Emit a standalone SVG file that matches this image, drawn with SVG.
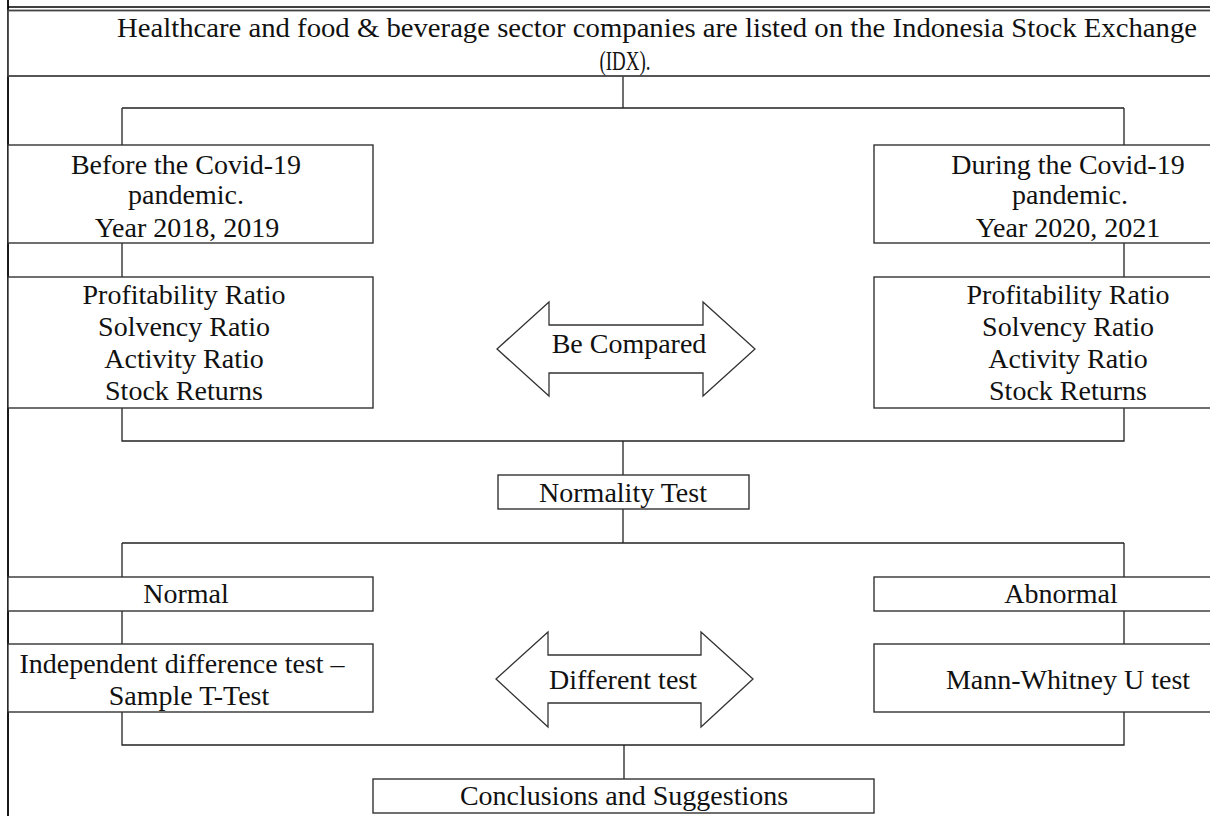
<svg xmlns="http://www.w3.org/2000/svg" width="1210" height="816" viewBox="0 0 1210 816">
<style>
.box{fill:#fff;stroke:#333;stroke-width:1.4}
.arrow{fill:#fff;stroke:#333;stroke-width:1.3;stroke-linejoin:miter}
.conn{fill:none;stroke:#222;stroke-width:1.3}
.t{font-family:"Liberation Serif","Times New Roman",serif;font-size:28px;fill:#111;text-anchor:middle}
</style>
<rect x="0" y="0" width="1210" height="816" fill="#fff"/>
<g id="frame">
<line x1="8" y1="0" x2="8" y2="816" stroke="#000" stroke-width="1.8"/>
<line x1="8" y1="7" x2="1210" y2="7" stroke="#000" stroke-width="1.3"/>
</g>
<g id="connectors">
<path class="conn" d="M623 76V108M122 108H1124M122 108V145M1124 108V145"/>
<path class="conn" d="M122 243V277M1124 243V277"/>
<path class="conn" d="M122 408V441H1124V408M623 441V475"/>
<path class="conn" d="M623 509V543M122 543H1124M122 543V577M1124 543V577"/>
<path class="conn" d="M122 611V644M1124 611V644"/>
<path class="conn" d="M122 712V745H1124V712M624 745V779"/>
</g>
<g id="top">
<rect x="8" y="10.5" width="1204" height="65.5" fill="#fff" stroke="#444" stroke-width="1.8"/>
<text class="t" x="657" y="37" textLength="1080" lengthAdjust="spacingAndGlyphs">Healthcare and food &amp; beverage sector companies are listed on the Indonesia Stock Exchange</text>
<text class="t" x="625" y="70" textLength="51" lengthAdjust="spacingAndGlyphs">(IDX).</text>
</g>
<g id="before">
<rect class="box" x="8" y="145" width="365" height="98"/>
<text class="t" x="186" y="174">Before the Covid-19</text>
<text class="t" x="186" y="204">pandemic.</text>
<text class="t" x="187" y="237">Year 2018, 2019</text>
</g>
<g id="during">
<rect class="box" x="874" y="145" width="340" height="98"/>
<text class="t" x="1068" y="174">During the Covid-19</text>
<text class="t" x="1070" y="204">pandemic.</text>
<text class="t" x="1068" y="237">Year 2020, 2021</text>
</g>
<g id="ratios-left">
<rect class="box" x="8" y="277" width="365" height="131"/>
<text class="t" x="184" y="304">Profitability Ratio</text>
<text class="t" x="184" y="336">Solvency Ratio</text>
<text class="t" x="184" y="368">Activity Ratio</text>
<text class="t" x="184" y="400">Stock Returns</text>
</g>
<g id="ratios-right">
<rect class="box" x="874" y="277" width="340" height="131"/>
<text class="t" x="1068" y="304">Profitability Ratio</text>
<text class="t" x="1068" y="336">Solvency Ratio</text>
<text class="t" x="1068" y="368">Activity Ratio</text>
<text class="t" x="1068" y="400">Stock Returns</text>
</g>
<g id="compare">
<polygon class="arrow" points="497,349 549,302 549,325 703,325 703,302 755,349 703,396 703,373 549,373 549,396"/>
<text class="t" x="629" y="353">Be Compared</text>
</g>
<g id="normality">
<rect class="box" x="498" y="475" width="251" height="34"/>
<text class="t" x="623" y="502">Normality Test</text>
</g>
<g id="normal">
<rect class="box" x="8" y="577" width="365" height="34"/>
<text class="t" x="186" y="603">Normal</text>
</g>
<g id="abnormal">
<rect class="box" x="874" y="577" width="340" height="34"/>
<text class="t" x="1061" y="603">Abnormal</text>
</g>
<g id="ttest">
<rect class="box" x="8" y="644" width="365" height="68"/>
<text class="t" x="182" y="673">Independent difference test –</text>
<text class="t" x="189" y="705">Sample T-Test</text>
</g>
<g id="mann">
<rect class="box" x="874" y="644" width="340" height="68"/>
<text class="t" x="1068" y="689">Mann-Whitney U test</text>
</g>
<g id="different">
<polygon class="arrow" points="496,679 548,632 548,655 701,655 701,632 753,679 701,727 701,703 548,703 548,727"/>
<text class="t" x="623" y="689">Different test</text>
</g>
<g id="conclusions">
<rect class="box" x="373" y="779" width="501" height="34"/>
<text class="t" x="624" y="805">Conclusions and Suggestions</text>
</g>
</svg>
